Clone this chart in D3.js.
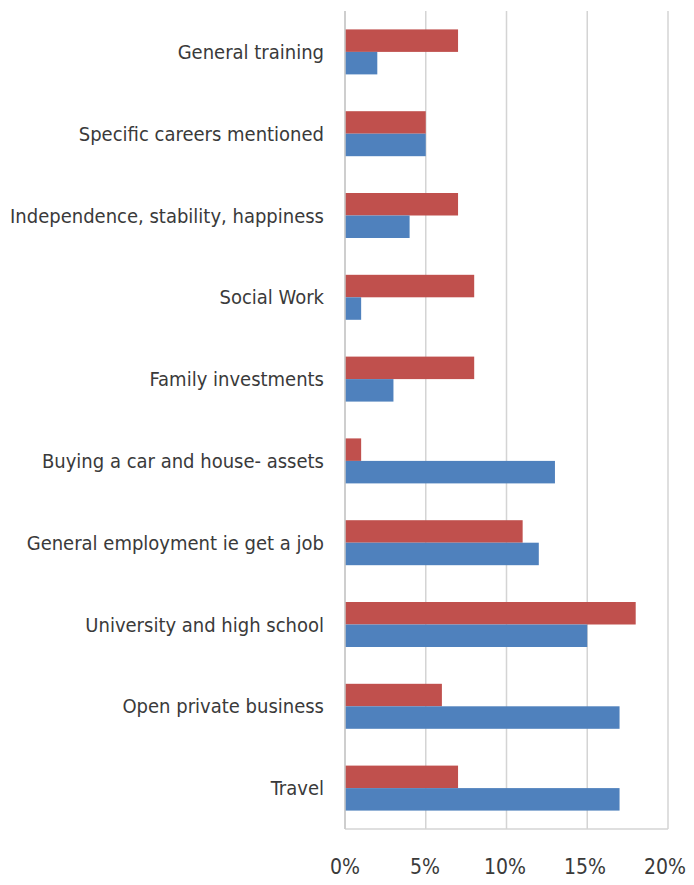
<!DOCTYPE html>
<html>
<head>
<meta charset="utf-8">
<script src="https://cdn.jsdelivr.net/npm/d3@7"></script>
<style>
  html, body { margin: 0; padding: 0; background: #ffffff; }
  svg text { font-family: "Liberation Sans Narrow", "DejaVu Sans Condensed", "Arial Narrow", sans-serif; fill: #3a3a3a; }
</style>
</head>
<body>
<svg id="chart" width="694" height="885"></svg>
<script>
// Categories, top to bottom
const categories = [
  "General training",
  "Specific careers mentioned",
  "Independence, stability, happiness",
  "Social Work",
  "Family investments",
  "Buying a car and house- assets",
  "General employment ie get a job",
  "University and high school",
  "Open private business",
  "Travel"
];
// Percent values for the two series (red drawn on top, blue beneath)
const series1 = [7, 5, 7, 8, 8, 1, 11, 18, 6, 7];
const series2 = [2, 5, 4, 1, 3, 13, 12, 15, 17, 17];
const tickValues = [0, 5, 10, 15, 20];

const seriesList = [
  { key: "s1", values: series1, color: "#C0504D" },
  { key: "s2", values: series2, color: "#4F81BD" }
];

const margin = { top: 11, right: 26, bottom: 56, left: 345 };
const width = 694, height = 885;
const svg = d3.select("#chart");

const x = d3.scaleLinear().domain([0, 20]).range([margin.left, width - margin.right]);
const y = d3.scaleBand().domain(categories).range([margin.top, height - margin.bottom]).paddingInner(0.45).paddingOuter(0.225);
const ySub = d3.scaleBand().domain(seriesList.map(s => s.key)).range([0, y.bandwidth()]);

// Vertical gridlines
svg.append("g")
  .selectAll("line")
  .data(tickValues)
  .join("line")
  .attr("x1", d => x(d)).attr("x2", d => x(d))
  .attr("y1", margin.top).attr("y2", height - margin.bottom)
  .attr("stroke", "#d4d4d4").attr("stroke-width", 1.5);

// Bars
const groups = svg.append("g")
  .selectAll("g")
  .data(categories)
  .join("g")
  .attr("transform", d => `translate(0,${y(d)})`);

groups.selectAll("rect")
  .data((d, i) => seriesList.map(s => ({ key: s.key, value: s.values[i], color: s.color })))
  .join("rect")
  .attr("x", x(0))
  .attr("y", d => ySub(d.key))
  .attr("width", d => x(d.value) - x(0))
  .attr("height", ySub.bandwidth())
  .attr("fill", d => d.color);

// Bottom axis line
svg.append("line")
  .attr("x1", x(0)).attr("x2", x(20))
  .attr("y1", height - margin.bottom).attr("y2", height - margin.bottom)
  .attr("stroke", "#d4d4d4").attr("stroke-width", 1.5);

// Left axis line
svg.append("line")
  .attr("x1", x(0)).attr("x2", x(0))
  .attr("y1", margin.top).attr("y2", height - margin.bottom)
  .attr("stroke", "#c8c8c8").attr("stroke-width", 1.5);

// Category labels
svg.append("g")
  .selectAll("text")
  .data(categories)
  .join("text")
  .attr("x", x(0) - 21)
  .attr("y", d => y(d) + y.bandwidth() / 2)
  .attr("dy", "0.35em")
  .attr("text-anchor", "end")
  .attr("font-size", 20)
  .text(d => d);

// Tick labels
svg.append("g")
  .selectAll("text")
  .data(tickValues)
  .join("text")
  .attr("x", d => x(d) - d * 0.15)
  .attr("y", 867)
  .attr("dy", "0.35em")
  .attr("text-anchor", "middle")
  .attr("font-size", 21)
  .text(d => d + "%");
</script>
</body>
</html>
